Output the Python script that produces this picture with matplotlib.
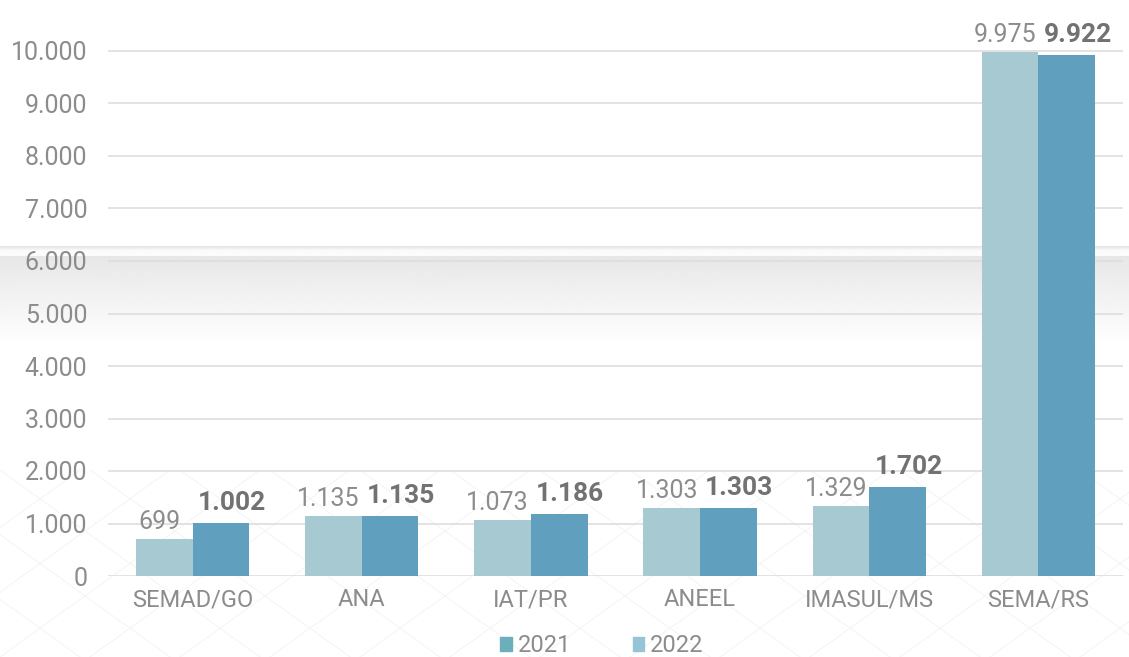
import matplotlib
matplotlib.use("Agg")
import matplotlib.pyplot as plt
import numpy as np
from matplotlib.patches import Rectangle

categories = ["SEMAD/GO", "ANA", "IAT/PR", "ANEEL", "IMASUL/MS", "SEMA/RS"]
values_light = [699, 1135, 1073, 1303, 1329, 9975]
values_dark = [1002, 1135, 1186, 1303, 1702, 9922]
legend_labels = ["2021", "2022"]
yticks = [0, 1000, 2000, 3000, 4000, 5000, 6000, 7000, 8000, 9000, 10000]

FONT = ["Roboto", "DejaVu Sans"]
plt.rcParams["font.family"] = FONT

W, H = 1129, 657
fig = plt.figure(figsize=(W / 100, H / 100), dpi=100)

# background: gray gradient band
bg = fig.add_axes([0, 0, 1, 1], zorder=0)
bg.set_xlim(0, W)
bg.set_ylim(H, 0)
bg.axis("off")
grad = np.ones((H, 1))
for y in range(H):
    if 246 <= y < 251:
        grad[y] = 0.90 + 0.02 * (y - 246)
    elif 251 <= y < 256:
        grad[y] = 0.985
    elif 256 <= y < 345:
        t = (y - 256) / (345 - 256)
        grad[y] = 0.905 + (1 - 0.905) * t
bg.imshow(np.repeat(grad, 2, axis=1), cmap="gray", vmin=0, vmax=1,
          extent=[0, W, H, 0], aspect="auto", interpolation="bilinear")
# faint mesh at bottom
for k in range(-12, 14):
    x0 = k * 90
    bg.plot([x0, x0 + 260], [H, 470], color="#f4f4f4", lw=0.7)
    bg.plot([x0 + 260, x0], [H, 470], color="#f4f4f4", lw=0.7)

left, right = 108 / W, 1123 / W
bottom = (H - 576) / H
ax = fig.add_axes([left, bottom, right - left, 1 - bottom], zorder=1)
ax.patch.set_alpha(0)
ymax = 576 / 52.5 * 1000
ax.set_ylim(0, ymax)
ax.set_xlim(-0.5, len(categories) - 0.5)

x = np.arange(len(categories))
bw = 0.335
c_light = "#a7c9d2"
c_dark = "#619fbf"
ax.bar(x - bw / 2, values_light, bw, color=c_light, zorder=3)
ax.bar(x + bw / 2, values_dark, bw, color=c_dark, zorder=3)

def fmt(v):
    return f"{v:,}".replace(",", ".")

txt = "#8c8c8c"
px = 0.72  # points per pixel at dpi 100
for xi, v in zip(x, values_light):
    ax.annotate(fmt(v), (xi - bw / 2, v), xytext=(-5 * px, 10 * px), textcoords="offset points",
                ha="center", va="baseline", fontsize=18, color=txt)
for xi, v in zip(x, values_dark):
    ax.annotate(fmt(v), (xi + bw / 2, v), xytext=(11 * px, 13 * px), textcoords="offset points",
                ha="center", va="baseline", fontsize=19, color="#727272", fontweight="bold")

ax.set_yticks(yticks)
ax.set_yticklabels([fmt(v) for v in yticks], fontsize=18, color=txt)
ax.set_xticks(x)
ax.set_xticklabels(categories, fontsize=17, color=txt)
ax.tick_params(axis="both", length=0)
ax.tick_params(axis="y", pad=15)
ax.tick_params(axis="x", pad=9)
ax.grid(axis="y", color="#dedede", lw=1.2, zorder=0)
for s in ax.spines.values():
    s.set_visible(False)

handles = [Rectangle((0, 0), 1, 1, color="#6aafbb"), Rectangle((0, 0), 1, 1, color="#94c4d6")]
leg = fig.legend(handles, legend_labels, loc="center", bbox_to_anchor=(602 / W, 1 - 646 / H),
                 ncol=2, frameon=False, labelcolor=txt,
                 prop={"size": 17},
                 handlelength=0.5, handleheight=0.5, handletextpad=0.25, columnspacing=2.6,
                 borderpad=0, borderaxespad=0)

fig.savefig("out.png", dpi=100)
